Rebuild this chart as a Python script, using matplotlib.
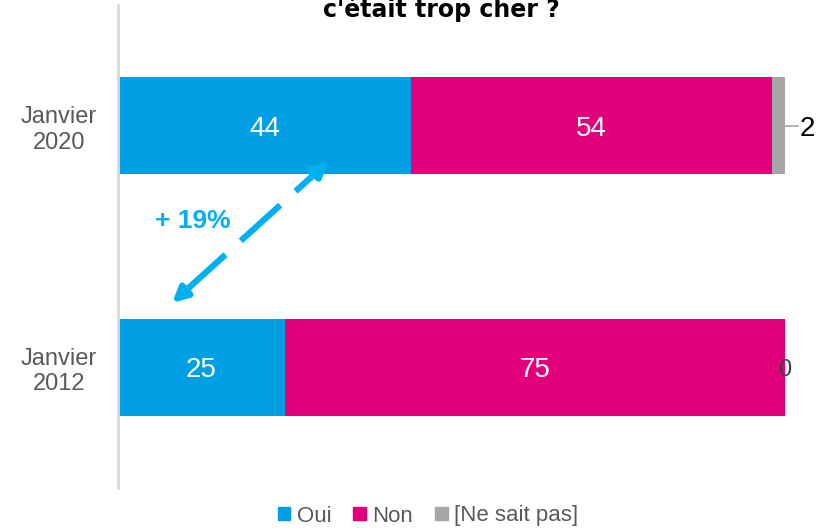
import matplotlib.pyplot as plt
from matplotlib.patches import Patch
import numpy as np

# data
periodes = ['Janvier\n2012', 'Janvier\n2020']
oui = [25, 44]
non = [75, 54]
nsp = [0, 2]
series = ['Oui', 'Non', '[Ne sait pas]']
couleurs = ['#009FE3', '#E2007A', '#A6A6A6']
titre = "c'était trop cher ?"
ecart = '+ 19%'

plt.rcParams['font.family'] = ['Liberation Sans', 'DejaVu Sans']

fig = plt.figure(figsize=(8.21, 5.29), dpi=100, facecolor='white')
ax = fig.add_axes([118/821, 41/529, 667/821, 483/529])

y = np.arange(len(periodes))
h = 0.4
b1 = ax.barh(y, oui, height=h, color=couleurs[0])
b2 = ax.barh(y, non, left=oui, height=h, color=couleurs[1])
left3 = np.array(oui) + np.array(non)
b3 = ax.barh(y, nsp, left=left3, height=h, color=couleurs[2])

# labels inside bars
for i in range(len(periodes)):
    ax.text(oui[i] / 2, y[i], str(oui[i]), color='white', fontsize=20,
            ha='center', va='center_baseline')
    ax.text(oui[i] + non[i] / 2, y[i], str(non[i]), color='white', fontsize=20,
            ha='center', va='center_baseline')

# ne sait pas labels
ax.text(100, y[0], str(nsp[0]), color='#404040', fontsize=17,
        ha='center', va='center_baseline', clip_on=False)
ax.plot([100, 102], [y[1], y[1]], color='#A6A6A6', lw=1.2, clip_on=False)
ax.text(102.2, y[1], str(nsp[1]), color='black', fontsize=20,
        ha='left', va='center_baseline', clip_on=False)

# dashed double arrow
p0 = np.array([8.1, 0.266])
p1 = np.array([31.6, 0.853])
arrow_col = '#00B0F0'
d = p1 - p0
a0 = p0 + d * 0.09
a1 = p1 - d * 0.09
ax.plot([a0[0], a1[0]], [a0[1], a1[1]], color=arrow_col, lw=4.5,
        linestyle=(0, (8.5, 3.3)), solid_capstyle='butt', dash_capstyle='butt')
ax.annotate('', xy=p0, xytext=a0 + d * 0.02,
            arrowprops=dict(arrowstyle='-|>', color=arrow_col, lw=4.5,
                            mutation_scale=22, shrinkA=0, shrinkB=0))
ax.annotate('', xy=p1, xytext=a1 - d * 0.02,
            arrowprops=dict(arrowstyle='-|>', color=arrow_col, lw=4.5,
                            mutation_scale=22, shrinkA=0, shrinkB=0))
ax.text(5.5, 0.618, ecart, color=arrow_col, fontsize=19, fontweight='bold',
        ha='left', va='center_baseline')

ax.set_xlim(0, 100)
ax.set_ylim(-0.5, 1.5)
ax.set_yticks(y)
ax.set_yticklabels(periodes, fontsize=17, color='#595959', multialignment='center')
ax.tick_params(axis='y', length=0, pad=15)
ax.set_xticks([])
for s in ['top', 'right', 'bottom']:
    ax.spines[s].set_visible(False)
ax.spines['left'].set_color('#D9D9D9')
ax.spines['left'].set_linewidth(2)

fig.text(441/821, 1 - 17/529, titre, fontsize=17, fontweight='bold',
         ha='center', va='baseline',
         family=['Liberation Sans Narrow', 'DejaVu Sans'])

handles = [Patch(color=c) for c in couleurs]
leg = fig.legend(handles, series, loc='center', bbox_to_anchor=(428/821, 1 - 516/529),
                 ncol=3, frameon=False, fontsize=16, handlelength=0.55,
                 handleheight=0.55, handletextpad=0.3, columnspacing=1.0,
                 borderaxespad=0)
for t in leg.get_texts():
    t.set_color('#595959')

fig.savefig('out.png', dpi=100)
